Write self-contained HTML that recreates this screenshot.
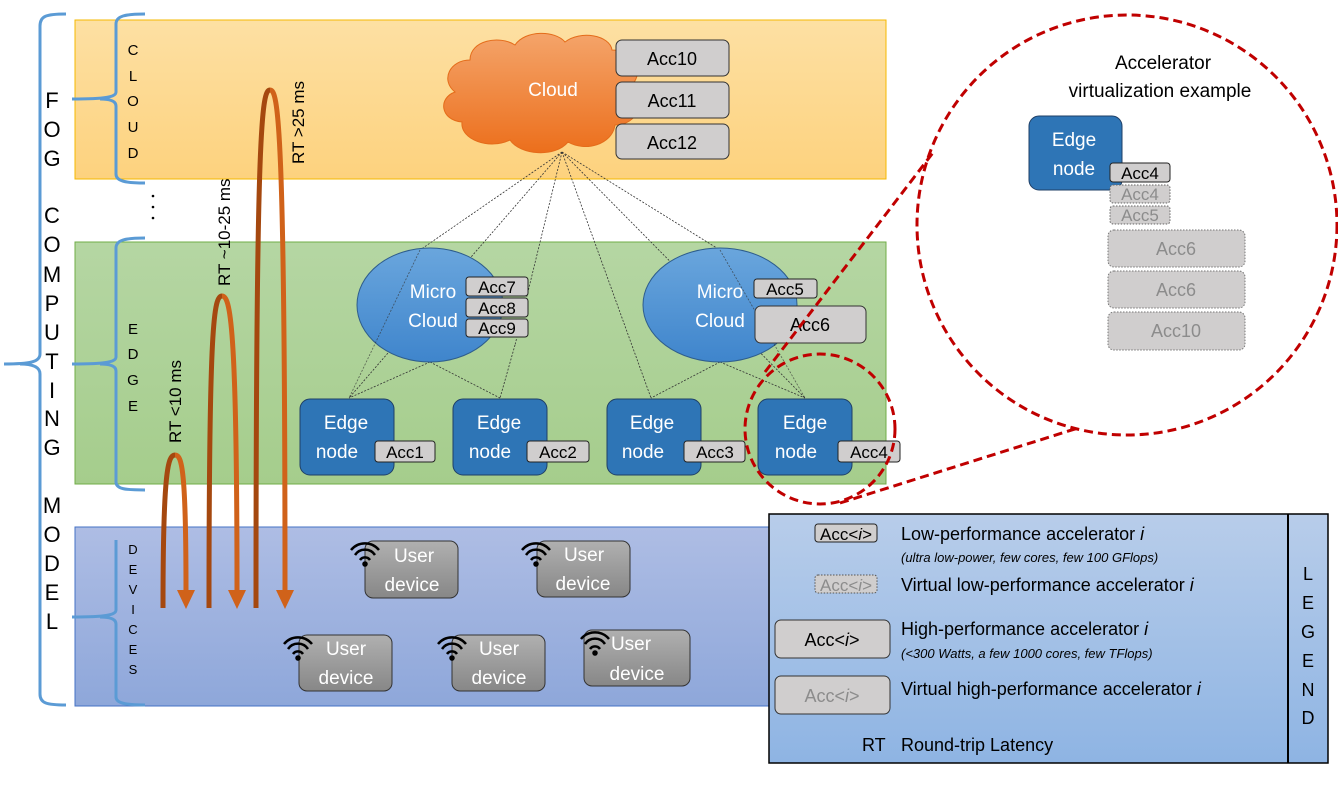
<!DOCTYPE html>
<html><head><meta charset="utf-8"><style>
body{margin:0;background:#fff;}
svg{display:block;font-family:"Liberation Sans",sans-serif;}
</style></head><body>
<svg width="1338" height="805" viewBox="0 0 1338 805" xmlns="http://www.w3.org/2000/svg">
<defs>
<linearGradient id="gc" x1="0" y1="0" x2="0" y2="1"><stop offset="0" stop-color="#fde0a3"/><stop offset="1" stop-color="#fdd27e"/></linearGradient>
<linearGradient id="ge" x1="0" y1="0" x2="0" y2="1"><stop offset="0" stop-color="#b5d6a3"/><stop offset="1" stop-color="#a5cd8c"/></linearGradient>
<linearGradient id="gd" x1="0" y1="0" x2="0" y2="1"><stop offset="0" stop-color="#aebde4"/><stop offset="1" stop-color="#8ea7da"/></linearGradient>
<linearGradient id="gl" x1="0" y1="0" x2="0" y2="1"><stop offset="0" stop-color="#b8cdea"/><stop offset="1" stop-color="#8eb4e3"/></linearGradient>
<linearGradient id="go" x1="0" y1="0" x2="0" y2="1"><stop offset="0" stop-color="#f4a46a"/><stop offset="1" stop-color="#ec6f1c"/></linearGradient>
<linearGradient id="gb" x1="0" y1="0" x2="0" y2="1"><stop offset="0" stop-color="#6aa6dd"/><stop offset="1" stop-color="#3f85cc"/></linearGradient>
<linearGradient id="gu" x1="0" y1="0" x2="0" y2="1"><stop offset="0" stop-color="#b0b0b0"/><stop offset="1" stop-color="#878787"/></linearGradient>
</defs>
<rect x="75" y="20" width="811" height="159" fill="url(#gc)" stroke="#f5b800"/>
<rect x="75" y="242" width="811" height="242" fill="url(#ge)" stroke="#70ad47"/>
<rect x="75" y="527" width="700" height="179" fill="url(#gd)" stroke="#4472c4"/>
<g fill="none" stroke="#5b9bd5" stroke-width="3">
<path d="M66,14 C46,14 40,16 40,26 L40,354 C40,362 30,364 4,364 M40,374 C40,366 30,364 20,364 M40,374 L40,694 C40,703 46,705 66,705"/>
<path d="M145,14 C125,14 116,16 116,24 L116,92 C116,97 106,99 72,99 M116,106 C116,101 110,99 100,99 M116,106 L116,174 C116,181 125,183 145,183"/>
<path d="M145,238 C125,238 116,240 116,248 L116,357 C116,362 106,364 72,364 M116,371 C116,366 110,364 100,364 M116,371 L116,482 C116,489 125,490 145,490"/>
<path d="M116,540 L116,610 C116,615 106,617 72,617 M116,624 C116,619 110,617 100,617 M116,624 L116,697 C116,703 125,705 145,705"/>
</g>
<g font-size="22" fill="#000" text-anchor="middle">
<text x="52" y="108">F</text><text x="52" y="137">O</text><text x="52" y="166">G</text>
<text x="52" y="223">C</text><text x="52" y="252">O</text><text x="52" y="282">M</text><text x="52" y="311">P</text><text x="52" y="340">U</text><text x="52" y="369">T</text><text x="52" y="398">I</text><text x="52" y="426">N</text><text x="52" y="455">G</text>
<text x="52" y="513">M</text><text x="52" y="542">O</text><text x="52" y="571">D</text><text x="52" y="600">E</text><text x="52" y="629">L</text>
</g>
<g font-size="15" fill="#000" text-anchor="middle">
<text x="133" y="55">C</text><text x="133" y="81">L</text><text x="133" y="106">O</text><text x="133" y="132">U</text><text x="133" y="158">D</text>
<text x="133" y="334">E</text><text x="133" y="359">D</text><text x="133" y="385">G</text><text x="133" y="411">E</text>
<text x="133" y="554" font-size="13">D</text><text x="133" y="574" font-size="13">E</text><text x="133" y="594" font-size="13">V</text><text x="133" y="614" font-size="13">I</text><text x="133" y="634" font-size="13">C</text><text x="133" y="654" font-size="13">E</text><text x="133" y="674" font-size="13">S</text>
</g>
<g fill="#000"><circle cx="153" cy="196" r="1.3"/><circle cx="153" cy="207" r="1.3"/><circle cx="153" cy="218" r="1.3"/></g>
<g stroke="#333" stroke-width="0.8" stroke-dasharray="2,1.5" fill="none">
<path d="M562,152 L420,250 M562,152 L349,398 M562,152 L515,345 M562,152 L651,398 M562,152 L720,250 M562,152 L805,398"/>
<path d="M430,362 L349,398 M430,362 L500,398 M515,345 L500,398"/>
<path d="M720,362 L651,398 M720,362 L805,398"/>
</g>
<path d="M470,60 C470,40 500,35 515,45 C525,30 555,30 565,42 C580,30 610,35 612,50 C635,50 645,70 632,85 C648,100 638,125 615,125 C612,145 585,152 568,142 C555,158 520,155 510,140 C490,150 460,140 462,122 C440,120 438,98 455,92 C440,80 450,60 470,60 Z" fill="url(#go)" stroke="#e46c1a"/>
<text x="553" y="96" font-size="19" fill="#fff" text-anchor="middle">Cloud</text>
<g font-size="18" text-anchor="middle">
<rect x="616" y="40" width="113" height="36" rx="6" fill="#d0cece" stroke="#333"/><text x="672" y="65">Acc10</text>
<rect x="616" y="82" width="113" height="36" rx="6" fill="#d0cece" stroke="#333"/><text x="672" y="107">Acc11</text>
<rect x="616" y="124" width="113" height="35" rx="6" fill="#d0cece" stroke="#333"/><text x="672" y="149">Acc12</text>
</g>
<ellipse cx="430" cy="305" rx="73" ry="57" fill="url(#gb)" stroke="#2e5d8c"/>
<ellipse cx="720" cy="305" rx="77" ry="57" fill="url(#gb)" stroke="#2e5d8c"/>
<g stroke="#333" stroke-width="0.8" stroke-dasharray="2,1.5" fill="none" opacity="0.7">
<path d="M420,250 L349,398 M720,250 L805,398"/>
</g>
<g font-size="19" fill="#fff" text-anchor="middle">
<text x="433" y="298">Micro</text><text x="433" y="327">Cloud</text>
<text x="720" y="298">Micro</text><text x="720" y="327">Cloud</text>
</g>
<g font-size="17" text-anchor="middle">
<rect x="466" y="277" width="62" height="19" rx="3" fill="#d0cece" stroke="#222"/><text x="497" y="293">Acc7</text>
<rect x="466" y="298" width="62" height="19" rx="3" fill="#d0cece" stroke="#222"/><text x="497" y="314">Acc8</text>
<rect x="466" y="319" width="62" height="18" rx="3" fill="#d0cece" stroke="#222"/><text x="497" y="334">Acc9</text>
<rect x="754" y="279" width="63" height="19" rx="3" fill="#d0cece" stroke="#222"/><text x="785" y="295">Acc5</text>
<rect x="755" y="306" width="111" height="37" rx="6" fill="#d0cece" stroke="#333"/><text x="810" y="331" font-size="18">Acc6</text>
</g>
<g font-size="19" text-anchor="middle">
<g><rect x="300" y="399" width="94" height="76" rx="10" fill="#2e75b6" stroke="#1f3f66"/><text x="346" y="429" fill="#fff">Edge</text><text x="337" y="458" fill="#fff">node</text><rect x="375" y="441" width="60" height="21" rx="3" fill="#d0cece" stroke="#222"/><text x="405" y="458" font-size="17">Acc1</text></g>
<g><rect x="453" y="399" width="94" height="76" rx="10" fill="#2e75b6" stroke="#1f3f66"/><text x="499" y="429" fill="#fff">Edge</text><text x="490" y="458" fill="#fff">node</text><rect x="527" y="441" width="62" height="21" rx="3" fill="#d0cece" stroke="#222"/><text x="558" y="458" font-size="17">Acc2</text></g>
<g><rect x="607" y="399" width="94" height="76" rx="10" fill="#2e75b6" stroke="#1f3f66"/><text x="652" y="429" fill="#fff">Edge</text><text x="643" y="458" fill="#fff">node</text><rect x="684" y="441" width="61" height="21" rx="3" fill="#d0cece" stroke="#222"/><text x="715" y="458" font-size="17">Acc3</text></g>
<g><rect x="758" y="399" width="94" height="76" rx="10" fill="#2e75b6" stroke="#1f3f66"/><text x="805" y="429" fill="#fff">Edge</text><text x="796" y="458" fill="#fff">node</text><rect x="838" y="441" width="62" height="21" rx="3" fill="#d0cece" stroke="#222"/><text x="869" y="458" font-size="17">Acc4</text></g>
</g>
<g fill="none" stroke="#c00000" stroke-width="3" stroke-dasharray="9,5">
<circle cx="820" cy="429" r="75"/>
<circle cx="1127" cy="225" r="210"/>
<path d="M765,372 L935,150 M840,503 L1078,428"/>
</g>
<g font-size="19" text-anchor="middle"><text x="1163" y="69">Accelerator</text><text x="1160" y="97">virtualization example</text></g>
<rect x="1029" y="116" width="93" height="74" rx="10" fill="#2e75b6" stroke="#1f3f66"/>
<text x="1074" y="146" font-size="19" fill="#fff" text-anchor="middle">Edge</text><text x="1074" y="175" font-size="19" fill="#fff" text-anchor="middle">node</text>
<g font-size="17" text-anchor="middle">
<rect x="1110" y="163" width="60" height="19" rx="3" fill="#d0cece" stroke="#222"/><text x="1140" y="179">Acc4</text>
<rect x="1110" y="185" width="60" height="18" rx="3" fill="#d0cece" stroke="#666" stroke-dasharray="1.5,1.5"/><text x="1140" y="200" fill="#8c8c8c">Acc4</text>
<rect x="1110" y="206" width="60" height="18" rx="3" fill="#d0cece" stroke="#666" stroke-dasharray="1.5,1.5"/><text x="1140" y="221" fill="#8c8c8c">Acc5</text>
<rect x="1108" y="230" width="137" height="37" rx="6" fill="#d0cece" stroke="#777" stroke-dasharray="1.5,1.5"/><text x="1176" y="255" font-size="18" fill="#8c8c8c">Acc6</text>
<rect x="1108" y="271" width="137" height="37" rx="6" fill="#d0cece" stroke="#777" stroke-dasharray="1.5,1.5"/><text x="1176" y="296" font-size="18" fill="#8c8c8c">Acc6</text>
<rect x="1108" y="312" width="137" height="38" rx="6" fill="#d0cece" stroke="#777" stroke-dasharray="1.5,1.5"/><text x="1176" y="337" font-size="18" fill="#8c8c8c">Acc10</text>
</g>
<g fill="none" stroke-width="5">
<path d="M163,608 C163,470 168,455 175,455" stroke="#a5480f"/>
<path d="M175,455 C182,455 186,470 186,592" stroke="#d0621a"/>
<path d="M209,608 C209,320 214,296 222,296" stroke="#a5480f"/>
<path d="M222,296 C230,296 237,320 237,592" stroke="#d0621a"/>
<path d="M256,608 C256,120 262,90 270,90" stroke="#a5480f"/>
<path d="M270,90 C278,90 285,120 285,592" stroke="#d0621a"/>
</g>
<g fill="#d0621a"><path d="M177,590 L195,590 L186,609 Z"/><path d="M228,590 L246,590 L237,609 Z"/><path d="M276,590 L294,590 L285,609 Z"/></g>
<g font-size="17" fill="#000">
<text transform="translate(181,443) rotate(-90)">RT &lt;10 ms</text>
<text transform="translate(230,286) rotate(-90)">RT ~10-25 ms</text>
<text transform="translate(304,164) rotate(-90)">RT &gt;25 ms</text>
</g>
<g font-size="19" fill="#fff" text-anchor="middle">
<g><rect x="365" y="541" width="93" height="57" rx="8" fill="url(#gu)" stroke="#333"/><text x="414" y="562">User</text><text x="412" y="591">device</text></g>
<g><rect x="537" y="541" width="93" height="56" rx="8" fill="url(#gu)" stroke="#333"/><text x="584" y="561">User</text><text x="583" y="590">device</text></g>
<g><rect x="299" y="635" width="93" height="56" rx="8" fill="url(#gu)" stroke="#333"/><text x="346" y="655">User</text><text x="346" y="684">device</text></g>
<g><rect x="452" y="635" width="93" height="56" rx="8" fill="url(#gu)" stroke="#333"/><text x="499" y="655">User</text><text x="499" y="684">device</text></g>
<g><rect x="584" y="630" width="106" height="56" rx="8" fill="url(#gu)" stroke="#333"/><text x="631" y="650">User</text><text x="637" y="680">device</text></g>
</g>
<g fill="none" stroke="#000" stroke-width="2.5">
<g transform="translate(365,562)"><path d="M-14,-12 A18,18 0 0 1 14,-12 M-10,-7 A12,12 0 0 1 10,-7 M-5,-2 A6,6 0 0 1 5,-2"/><circle cx="0" cy="2" r="1.5" fill="#000"/></g>
<g transform="translate(536,562)"><path d="M-14,-12 A18,18 0 0 1 14,-12 M-10,-7 A12,12 0 0 1 10,-7 M-5,-2 A6,6 0 0 1 5,-2"/><circle cx="0" cy="2" r="1.5" fill="#000"/></g>
<g transform="translate(298,656)"><path d="M-14,-12 A18,18 0 0 1 14,-12 M-10,-7 A12,12 0 0 1 10,-7 M-5,-2 A6,6 0 0 1 5,-2"/><circle cx="0" cy="2" r="1.5" fill="#000"/></g>
<g transform="translate(452,656)"><path d="M-14,-12 A18,18 0 0 1 14,-12 M-10,-7 A12,12 0 0 1 10,-7 M-5,-2 A6,6 0 0 1 5,-2"/><circle cx="0" cy="2" r="1.5" fill="#000"/></g>
<g transform="translate(595,651)"><path d="M-14,-12 A18,18 0 0 1 14,-12 M-10,-7 A12,12 0 0 1 10,-7 M-5,-2 A6,6 0 0 1 5,-2"/><circle cx="0" cy="2" r="1.5" fill="#000"/></g>
</g>
<rect x="769" y="514" width="559" height="249" fill="url(#gl)" stroke="#000" stroke-width="1.5"/>
<line x1="1288" y1="514" x2="1288" y2="763" stroke="#000" stroke-width="2"/>
<g font-size="18" text-anchor="middle"><text x="1308" y="580">L</text><text x="1308" y="609">E</text><text x="1308" y="638">G</text><text x="1308" y="667">E</text><text x="1308" y="696">N</text><text x="1308" y="724">D</text></g>
<rect x="815" y="524" width="62" height="18" rx="3" fill="#d0cece" stroke="#222"/><text x="846" y="540" font-size="17" text-anchor="middle">Acc&lt;<tspan font-style="italic">i</tspan>&gt;</text>
<rect x="815" y="575" width="62" height="18" rx="3" fill="#d0cece" stroke="#555" stroke-dasharray="1.5,1.5"/><text x="846" y="591" font-size="17" text-anchor="middle" fill="#8c8c8c">Acc&lt;<tspan font-style="italic">i</tspan>&gt;</text>
<rect x="775" y="620" width="115" height="38" rx="6" fill="#d0cece" stroke="#333"/><text x="832" y="646" font-size="18" text-anchor="middle">Acc&lt;<tspan font-style="italic">i</tspan>&gt;</text>
<rect x="775" y="676" width="115" height="38" rx="6" fill="#d0cece" stroke="#333"/><text x="832" y="702" font-size="18" text-anchor="middle" fill="#8c8c8c">Acc&lt;<tspan font-style="italic">i</tspan>&gt;</text>
<g font-size="18">
<text x="901" y="540">Low-performance accelerator <tspan font-style="italic">i</tspan></text>
<text x="901" y="562" font-size="13" font-style="italic">(ultra low-power, few cores, few 100 GFlops)</text>
<text x="901" y="591">Virtual low-performance accelerator <tspan font-style="italic">i</tspan></text>
<text x="901" y="635">High-performance accelerator <tspan font-style="italic">i</tspan></text>
<text x="901" y="658" font-size="13" font-style="italic">(&lt;300 Watts, a few 1000 cores, few TFlops)</text>
<text x="901" y="695">Virtual high-performance accelerator <tspan font-style="italic">i</tspan></text>
<text x="862" y="751">RT</text>
<text x="901" y="751">Round-trip Latency</text>
</g>
</svg>
</body></html>
